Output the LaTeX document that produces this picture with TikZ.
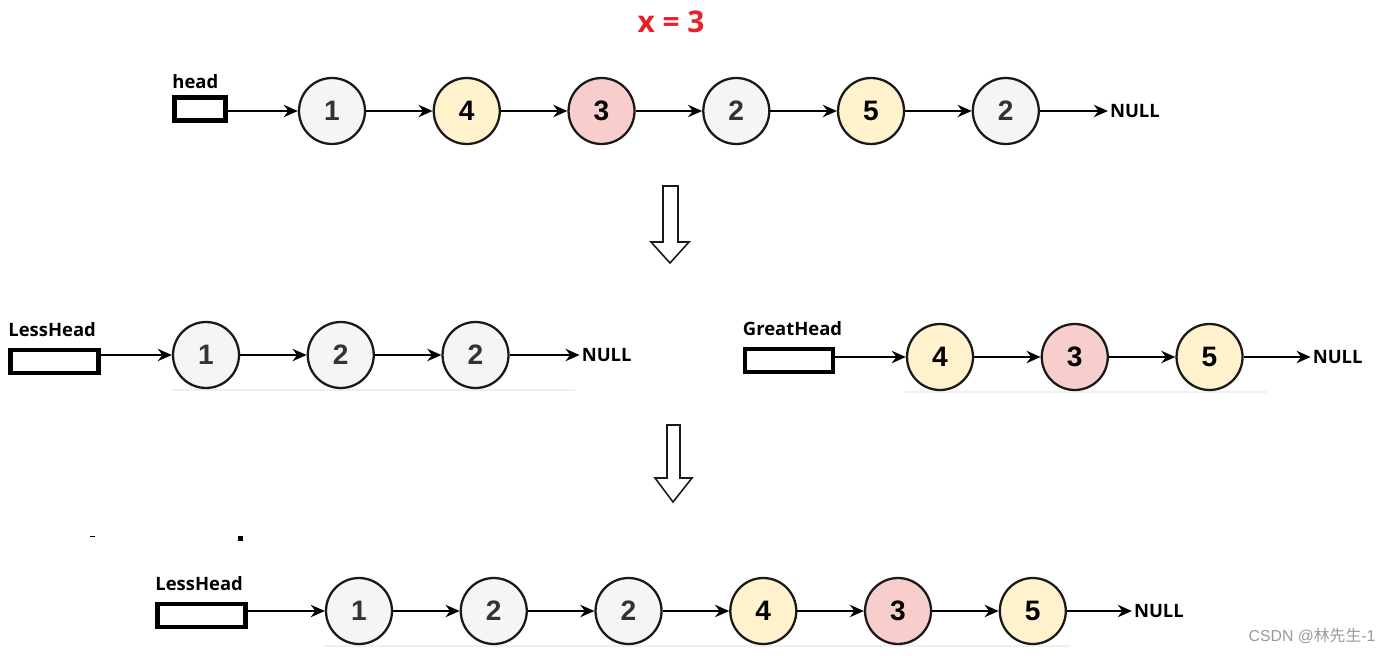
\documentclass[tikz,border=0pt]{standalone}
\usepackage{fontspec}
\setmainfont{Liberation Sans}
\newfontfamily\lblfont{Open Sans}
\newfontfamily\cjkfont{Noto Sans CJK SC}
\usetikzlibrary{positioning,arrows.meta}
\definecolor{nodeGray}{HTML}{F5F5F5}
\definecolor{nodeYellow}{HTML}{FFF2CC}
\definecolor{nodeRed}{HTML}{F8CECC}
\definecolor{xRed}{HTML}{E8202A}
\tikzset{
  elem/.style={circle, draw=black!90, line width=1.3pt, minimum size=1.32cm,
    inner sep=0pt, font=\bfseries\fontsize{16}{16}\selectfont},
  less/.style={elem, fill=nodeGray, text=black!80},
  equal/.style={elem, fill=nodeRed},
  great/.style={elem, fill=nodeYellow},
  headbox/.style={draw, line width=2.8pt, minimum height=0.46cm, inner sep=0pt},
  lbl/.style={font=\lblfont\bfseries\fontsize{10.5}{10.5}\selectfont, anchor=south west,
    inner xsep=0pt},
  nullnode/.style={font=\lblfont\bfseries\fontsize{10.5}{10.5}\selectfont, inner sep=1pt},
  link/.style={-{Stealth[length=8pt,width=7pt]}, line width=1.3pt},
  hollow/.style={draw=black!90, line width=0.9pt, fill=white},
  shadowline/.style={draw=black!6, line width=1.2pt}
}
\begin{document}
\begin{tikzpicture}[x=0.02cm, y=-0.02cm, node distance=1.33cm]
  \useasboundingbox (0,0) rectangle (1391,655);

  \node[font=\lblfont\bfseries\fontsize{17}{17}\selectfont, text=xRed] (xval) at (671,22) {x = 3};

  % original list
  \node[headbox, minimum width=1.02cm] (head) at (200,109) {};
  \node[lbl] (headlbl) at (head.north west) {head};
  \node[less] (a1) at (332,111) {1};
  \node[great] (a2) [right= of a1] {4};
  \node[equal] (a3) [right= of a2] {3};
  \node[less] (a4) [right= of a3] {2};
  \node[great] (a5) [right= of a4] {5};
  \node[less] (a6) [right= of a5] {2};
  \node[nullnode, anchor=west] (anull) [right=1.36cm of a6] {NULL};
  \draw[link] (head.east |- a1.west) -- (a1.west);
  \foreach \i/\j in {1/2,2/3,3/4,4/5,5/6}
    \draw[link] (a\i) -- (a\j);
  \draw[link] (a6) -- (anull);

  \draw[hollow] (663,186) -- (678,186) -- (678,242) -- (689,242) -- (670,263)
    -- (651,242) -- (663,242) -- cycle;

  % split lists
  \draw[shadowline] (172,390) -- (575,390);
  \draw[shadowline] (905,392) -- (1267,392);
  \node[headbox, minimum width=1.76cm] (lhead) at (54.5,361.5) {};
  \node[lbl, yshift=0.09cm] (lheadlbl) at (lhead.north west) {LessHead};
  \node[less] (l1) at (206,355) {1};
  \node[less] (l2) [right= of l1] {2};
  \node[less] (l3) [right= of l2] {2};
  \node[nullnode, anchor=west] (lnull) [right=1.4cm of l3] {NULL};
  \draw[link] (lhead.east |- l1.west) -- (l1.west);
  \draw[link] (l1) -- (l2);
  \draw[link] (l2) -- (l3);
  \draw[link] (l3) -- (lnull);

  \node[headbox, minimum width=1.76cm] (ghead) at (789,360.5) {};
  \node[lbl, yshift=0.09cm] (gheadlbl) at (ghead.north west) {GreatHead};
  \node[great] (g1) at (940,357) {4};
  \node[equal] (g2) [right= of g1] {3};
  \node[great] (g3) [right= of g2] {5};
  \node[nullnode, anchor=west] (gnull) [right=1.34cm of g3] {NULL};
  \draw[link] (ghead.east |- g1.west) -- (g1.west);
  \draw[link] (g1) -- (g2);
  \draw[link] (g2) -- (g3);
  \draw[link] (g3) -- (gnull);

  \draw[hollow] (667,425) -- (680,425) -- (680,478) -- (692,478) -- (673,502)
    -- (655,478) -- (667,478) -- cycle;

  \fill (90,535.5) rectangle (95,536.5);
  \fill (238,536) rectangle (243,541);

  % joined list
  \draw[shadowline] (325,646) -- (1070,646);
  \node[headbox, minimum width=1.76cm] (jhead) at (201.5,615.5) {};
  \node[lbl, yshift=0.09cm] (jheadlbl) at (jhead.north west) {LessHead};
  \node[less] (j1) at (359,611) {1};
  \node[less] (j2) [right= of j1] {2};
  \node[less] (j3) [right= of j2] {2};
  \node[great] (j4) [right= of j3] {4};
  \node[equal] (j5) [right= of j4] {3};
  \node[great] (j6) [right= of j5] {5};
  \node[nullnode, anchor=west] (jnull) [right=1.3cm of j6] {NULL};
  \draw[link] (jhead.east |- j1.west) -- (j1.west);
  \foreach \i/\j in {1/2,2/3,3/4,4/5,5/6}
    \draw[link] (j\i) -- (j\j);
  \draw[link] (j6) -- (jnull);

  \node[text=black!40, font=\fontsize{9}{9}\selectfont] (mark) at (1312,636)
    {CSDN @{\cjkfont 林先生}-1};
\end{tikzpicture}
\end{document}
